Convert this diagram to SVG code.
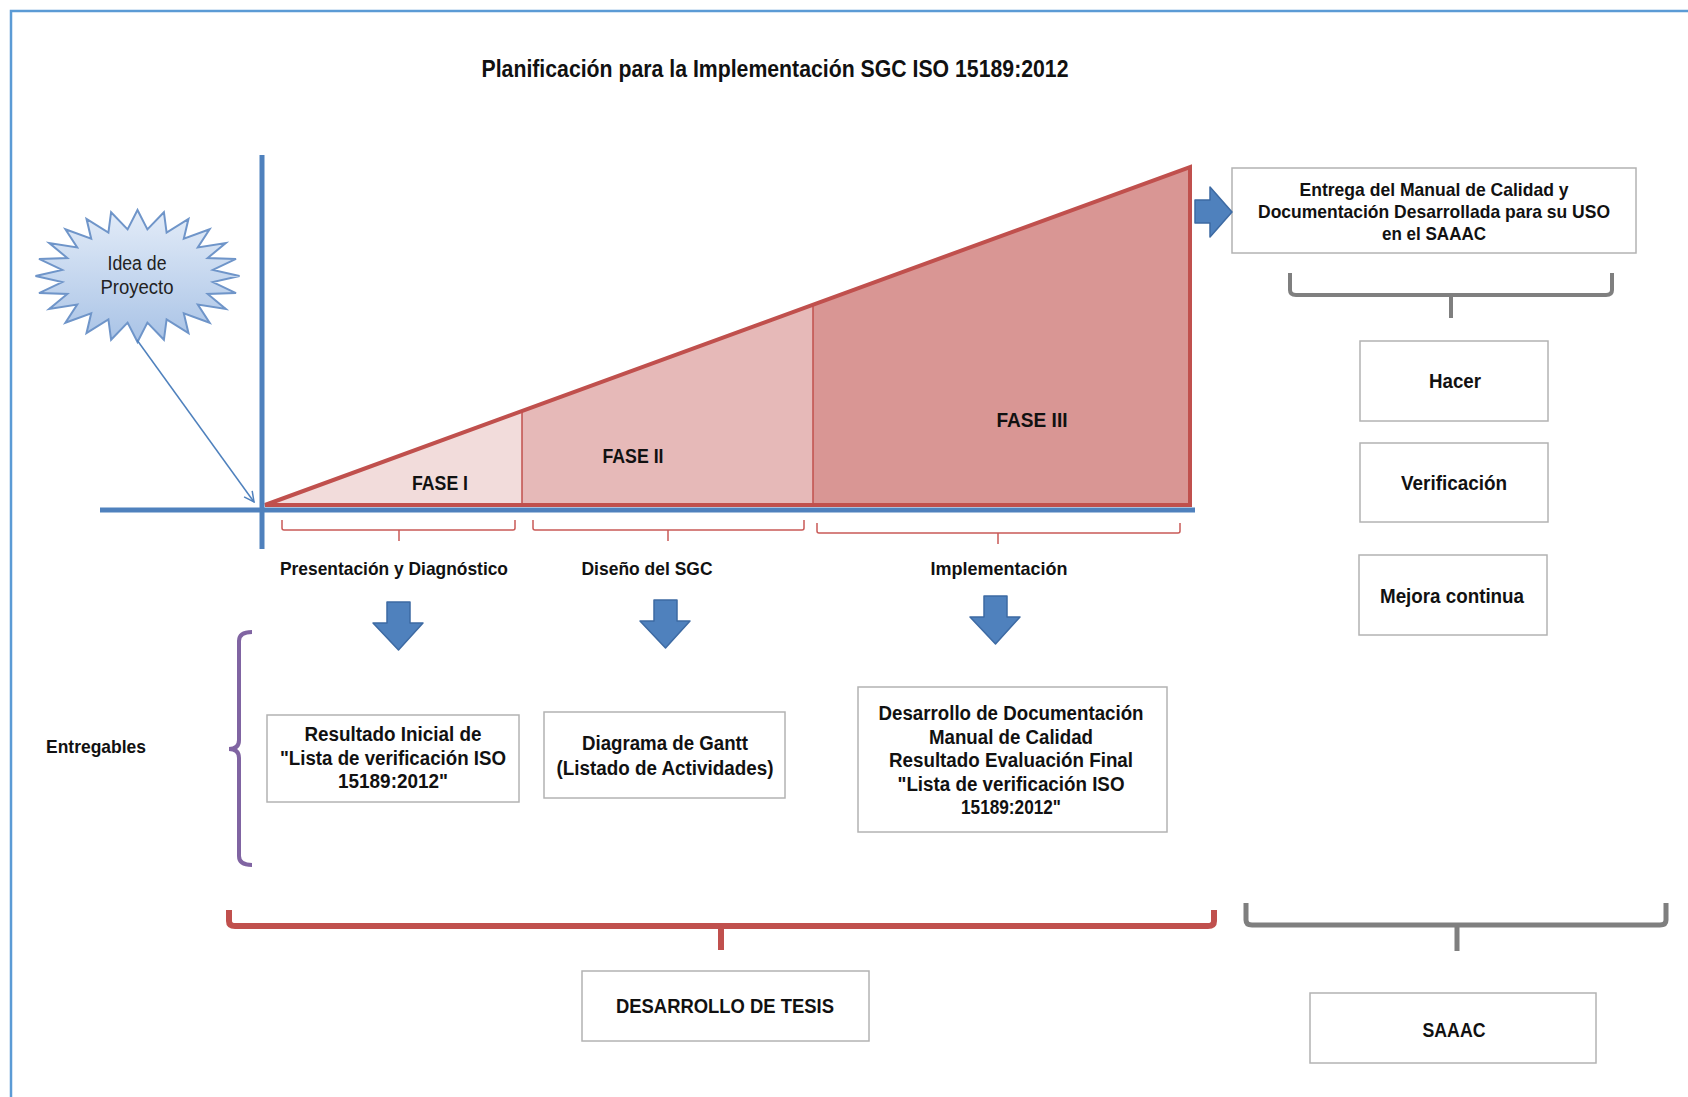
<svg xmlns="http://www.w3.org/2000/svg" width="1688" height="1097" viewBox="0 0 1688 1097">
  <defs>
    <style>
      .t { font-family: "Liberation Sans", Arial, sans-serif; font-weight: bold; fill: #111; text-anchor: middle; }
      .tr { font-family: "Liberation Sans", Arial, sans-serif; font-weight: normal; fill: #222; text-anchor: middle; }
      .box { fill: #ffffff; stroke: #b3b3b3; stroke-width: 1.5; }
      .axis { stroke: #4f81bd; stroke-width: 5; fill: none; }
      .brk { fill: none; stroke: #c95a57; stroke-width: 1.5; }
      .darr { fill: #4f81bd; stroke: #3d6aa3; stroke-width: 1.5; stroke-linejoin: round; }
    </style>
    <linearGradient id="starFill" x1="0" y1="0" x2="0" y2="1">
      <stop offset="0" stop-color="#e3ecf8"/>
      <stop offset="1" stop-color="#a9c3e6"/>
    </linearGradient>
    <marker id="openHead" viewBox="0 0 12 12" refX="11" refY="6" markerWidth="12" markerHeight="12" markerUnits="userSpaceOnUse" orient="auto">
      <path d="M1,1 L11,6 L1,11" fill="none" stroke="#4f81bd" stroke-width="1.5"/>
    </marker>
  </defs>

  <rect width="1688" height="1097" fill="#ffffff"/>
  <!-- page frame -->
  <path d="M11,1097 V11 H1688" fill="none" stroke="#5b9bd5" stroke-width="2.5"/>

  <!-- title -->
  <text class="t" x="775" y="77" font-size="23" textLength="587" lengthAdjust="spacingAndGlyphs">Planificación para la  Implementación SGC ISO 15189:2012</text>

  <!-- phase wedge -->
  <g id="wedge">
    <polygon points="265,505 522,411 522,505" fill="#f2dcdb"/>
    <polygon points="522,411 813,305 813,505 522,505" fill="#e6b9b8"/>
    <polygon points="813,305 1190,167 1190,505 813,505" fill="#d99694"/>
    <line x1="522" y1="411" x2="522" y2="505" stroke="#c0504d" stroke-width="1.5"/>
    <line x1="813" y1="305" x2="813" y2="505" stroke="#c0504d" stroke-width="1.5"/>
    <polygon points="265,505 1190,167 1190,505" fill="none" stroke="#c0504d" stroke-width="4" stroke-linejoin="miter"/>
    <text class="t" x="440" y="490" font-size="20" textLength="56" lengthAdjust="spacingAndGlyphs">FASE I</text>
    <text class="t" x="633" y="463" font-size="20" textLength="61" lengthAdjust="spacingAndGlyphs">FASE II</text>
    <text class="t" x="1032" y="427" font-size="20" textLength="71" lengthAdjust="spacingAndGlyphs">FASE III</text>
  </g>

  <!-- axes -->
  <g id="axes">
    <line class="axis" x1="100" y1="510" x2="1195" y2="510"/>
    <line class="axis" x1="262" y1="155" x2="262" y2="549"/>
  </g>

  <!-- idea starburst -->
  <g id="idea">
    <polygon fill="url(#starFill)" stroke="#6f95c9" stroke-width="2" stroke-linejoin="miter"
      points="239.5,276 212.9,282.1 236.0,293.1 207.7,294.0 225.8,309 197.8,304.6 209.6,322.7 183.8,313.3 188.5,333.2 166.6,319.4 163.9,339.8 147.4,322.6 137.5,342 127.6,322.6 111.1,339.8 108.4,319.4 86.5,333.2 91.2,313.3 65.4,322.7 77.2,304.6 49.2,309 67.3,294.0 39.0,293.1 62.2,282.1 35.5,276 62.2,269.9 39.0,258.9 67.3,258.0 49.2,243 77.2,247.4 65.4,229.3 91.2,238.7 86.5,218.8 108.4,232.6 111.1,212.2 127.6,229.4 137.5,210 147.4,229.4 163.9,212.2 166.6,232.6 188.5,218.8 183.8,238.7 209.6,229.3 197.8,247.4 225.8,243 207.7,258.0 236.0,258.9 212.9,269.9"/>
    <text class="tr" x="137" y="270" font-size="20" textLength="59" lengthAdjust="spacingAndGlyphs">Idea de</text>
    <text class="tr" x="137" y="294" font-size="20" textLength="73" lengthAdjust="spacingAndGlyphs">Proyecto</text>
  </g>

  <!-- phase labels -->
  <g id="phase-labels">
    <text class="t" x="394" y="575" font-size="19" textLength="228" lengthAdjust="spacingAndGlyphs">Presentación y Diagnóstico</text>
    <text class="t" x="647" y="575" font-size="19" textLength="131" lengthAdjust="spacingAndGlyphs">Diseño del SGC</text>
    <text class="t" x="999" y="575" font-size="19" textLength="137" lengthAdjust="spacingAndGlyphs">Implementación</text>
  </g>

  <g id="entregables-label">
    <text class="t" x="96" y="753" font-size="19" textLength="100" lengthAdjust="spacingAndGlyphs">Entregables</text>
  </g>

  <!-- deliverable boxes -->
  <g id="deliverable-1">
    <rect class="box" x="267" y="715" width="252" height="87"/>
    <text class="t" x="393" y="741" font-size="20" textLength="177" lengthAdjust="spacingAndGlyphs">Resultado Inicial de</text>
    <text class="t" x="393" y="765" font-size="20" textLength="226" lengthAdjust="spacingAndGlyphs">"Lista de verificación ISO</text>
    <text class="t" x="393" y="788" font-size="20" textLength="110" lengthAdjust="spacingAndGlyphs">15189:2012"</text>
  </g>
  <g id="deliverable-2">
    <rect class="box" x="544" y="712" width="241" height="86"/>
    <text class="t" x="665" y="750" font-size="20" textLength="166" lengthAdjust="spacingAndGlyphs">Diagrama de Gantt</text>
    <text class="t" x="665" y="775" font-size="20" textLength="217" lengthAdjust="spacingAndGlyphs">(Listado de Actividades)</text>
  </g>
  <g id="deliverable-3">
    <rect class="box" x="858" y="687" width="309" height="145"/>
    <text class="t" x="1011" y="720" font-size="20" textLength="265" lengthAdjust="spacingAndGlyphs">Desarrollo de Documentación</text>
    <text class="t" x="1011" y="744" font-size="20" textLength="164" lengthAdjust="spacingAndGlyphs">Manual de Calidad</text>
    <text class="t" x="1011" y="767" font-size="20" textLength="244" lengthAdjust="spacingAndGlyphs">Resultado Evaluación Final</text>
    <text class="t" x="1011" y="791" font-size="20" textLength="227" lengthAdjust="spacingAndGlyphs">"Lista de verificación ISO</text>
    <text class="t" x="1011" y="814" font-size="20" textLength="100" lengthAdjust="spacingAndGlyphs">15189:2012"</text>
  </g>

  <!-- handover and PDCA boxes -->
  <g id="entrega">
    <rect class="box" x="1232" y="168" width="404" height="85"/>
    <text class="t" x="1434" y="196" font-size="19" textLength="269" lengthAdjust="spacingAndGlyphs">Entrega del Manual de Calidad y</text>
    <text class="t" x="1434" y="218" font-size="19" textLength="352" lengthAdjust="spacingAndGlyphs">Documentación  Desarrollada  para su USO</text>
    <text class="t" x="1434" y="240" font-size="19" textLength="104" lengthAdjust="spacingAndGlyphs">en el SAAAC</text>
  </g>
  <g id="hacer">
    <rect class="box" x="1360" y="341" width="188" height="80"/>
    <text class="t" x="1455" y="388" font-size="21" textLength="52" lengthAdjust="spacingAndGlyphs">Hacer</text>
  </g>
  <g id="verificacion">
    <rect class="box" x="1360" y="443" width="188" height="79"/>
    <text class="t" x="1454" y="490" font-size="21" textLength="106" lengthAdjust="spacingAndGlyphs">Verificación</text>
  </g>
  <g id="mejora">
    <rect class="box" x="1359" y="555" width="188" height="80"/>
    <text class="t" x="1452" y="603" font-size="21" textLength="144" lengthAdjust="spacingAndGlyphs">Mejora continua</text>
  </g>

  <!-- summary boxes -->
  <g id="tesis">
    <rect class="box" x="582" y="971" width="287" height="70"/>
    <text class="t" x="725" y="1013" font-size="20" textLength="218" lengthAdjust="spacingAndGlyphs">DESARROLLO DE TESIS</text>
  </g>
  <g id="saaac">
    <rect class="box" x="1310" y="993" width="286" height="70"/>
    <text class="t" x="1454" y="1037" font-size="20" textLength="63" lengthAdjust="spacingAndGlyphs">SAAAC</text>
  </g>

  <!-- connectors: arrows and braces -->
  <g id="connectors">
    <line x1="137" y1="340" x2="254" y2="502" stroke="#4f81bd" stroke-width="1.5" marker-end="url(#openHead)"/>

    <path class="brk" d="M282,520 V528 Q282,530 284,530 H513 Q515,530 515,528 V520 M399,530 V541"/>
    <path class="brk" d="M533,520 V528 Q533,530 535,530 H802 Q804,530 804,528 V520 M668,530 V541"/>
    <path class="brk" d="M817,523 V531 Q817,533 819,533 H1178 Q1180,533 1180,531 V523 M998,533 V544"/>

    <polygon class="darr" points="387,602 410,602 410,623 423,623 398.5,650 373,623 387,623"/>
    <polygon class="darr" points="654,600 677,600 677,621 690,621 665.5,648 640,621 654,621"/>
    <polygon class="darr" points="984,596 1007,596 1007,617 1020,617 995.5,644 970,617 984,617"/>

    <polygon class="darr" points="1195,200 1210,200 1210,187 1232,212 1210,237 1210,223 1195,223"/>

    <path d="M252,632 Q239,632 239,641 V740 Q239,749 229,749 Q239,749 239,758 V856 Q239,865 252,865" fill="none" stroke="#8064a2" stroke-width="4"/>

    <path d="M1290,273 V290 Q1290,295 1296,295 H1606 Q1612,295 1612,290 V273 M1451,295 V318" fill="none" stroke="#7f7f7f" stroke-width="4"/>

    <path d="M229,910 V921 Q229,926 235,926 H1208 Q1214,926 1214,921 V910 M721,926 V950" fill="none" stroke="#c0504d" stroke-width="6"/>
    <path d="M1246,903 V920 Q1246,925 1252,925 H1660 Q1666,925 1666,920 V903 M1457,925 V951" fill="none" stroke="#7f7f7f" stroke-width="5"/>
  </g>
</svg>
